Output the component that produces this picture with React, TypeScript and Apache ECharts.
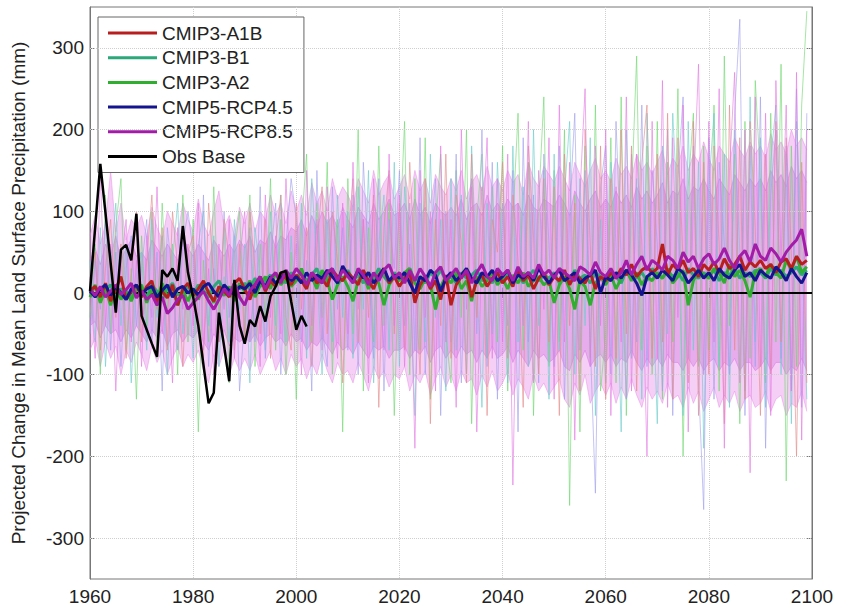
import React, { useEffect, useRef } from "react";
import * as echarts from "echarts";

const START_YEAR = 1960;
const FONT = "'Liberation Sans', Arial, sans-serif";

const xMin = 1960;
const xMax = 2100;
const xInterval = 20;
const yTickValues = [-300, -200, -100, 0, 100, 200, 300];

const legendNames = ["CMIP3-A1B", "CMIP3-B1", "CMIP3-A2", "CMIP5-RCP4.5", "CMIP5-RCP8.5", "Obs Base"];

// Observed baseline, 1960-2002
const obsBase = [
  2, 80, 158, 98, 37, -24, 53, 59, 40, 97,
  -28, -45, -62, -78, 28, 20, 30, 15, 82, 25,
  -5, -40, -88, -135, -122, -24, -65, -108, 16, -40,
  -62, -33, -41, -16, -35, -4, 8, 25, 27, -10,
  -45, -28, -41,
];

// Ensemble means, 1960-2099
const meanA1B = [
  3, 8, -5, 12, -10, 5, 20, -8, 2, 10,
  -5, 8, 15, -12, 2, -6, 10, -15, 5, 12,
  -3, 5, 15, 0, -10, 8, 2, -5, 12, 18,
  5, -8, 10, 20, 2, 15, 8, 25, 18, 10,
  22, 15, 5, 25, 12, 18, 8, 28, 20, 15,
  25, 18, 10, 28, 15, 5, 22, 30, 12, 20,
  8, 18, 25, -12, 10, 20, 5, 15, -8, 22,
  -15, 10, 20, 25, -5, 15, 22, 8, 18, 25,
  12, 20, 8, 28, 15, 22, 5, 18, 25, 10,
  20, 15, 28, 10, 22, 18, 12, 25, 5, 20,
  15, 25, 18, 30, 22, 35, 20, 28, 32, 25,
  30, 60, 22, 35, 28, 40, 25, 30, 20, 35,
  28, 38, 25, 42, 30, 35, 45, 28, 38, 32,
  40, 30, 35, 25, 38, 42, 30, 45, 35, 40,
];
const meanB1 = [
  0, 8, -5, 3, 10, -8, 5, 2, -6, 8,
  3, -5, 10, 2, -8, 5, 12, -3, 0, 8,
  -2, 10, 3, -5, 8, 15, 2, -3, 10, 5,
  12, 5, 18, 8, 15, 22, 10, 20, 12, 25,
  18, 25, 15, 22, 30, 12, 20, 25, 18, 15,
  28, 15, 22, 12, 25, 18, 30, 20, 12, 25,
  18, 22, 30, 15, 20, 12, 25, 18, 28, 15,
  20, 12, 25, 18, 22, 28, 15, 20, 12, 25,
  15, 22, 18, 25, 12, 20, 28, 15, 22, 18,
  25, 12, 20, 15, 28, 18, 22, 12, 25, 20,
  15, 25, 20, 12, 28, 22, 18, 25, 15, 30,
  22, 18, 28, 20, 25, 15, 30, 22, 18, 25,
  20, 28, 15, 25, 22, 30, 18, 25, 20, 28,
  25, 18, 30, 22, 28, 20, 25, 32, 22, 28,
];
const meanA2 = [
  -5, 10, -12, 5, -15, 8, -8, 2, -10, 5,
  10, -12, 5, -8, 12, -5, 8, -15, 3, -10,
  5, -8, 10, 2, -12, 5, -3, 8, -10, 12,
  2, 15, -5, 10, 20, 5, 25, 10, 18, 8,
  15, 30, 12, 20, 5, 28, 15, -8, 10, 20,
  8, -10, 15, 22, 5, 18, 12, -15, 10, 20,
  15, 25, 30, 12, 5, 18, 10, -20, 8, 20,
  12, 25, 5, 15, -10, 20, 8, 15, 25, 10,
  18, 5, 22, 12, 25, 8, 15, 20, 10, 15,
  -12, 10, 20, 5, -20, 15, 8, -15, 12, 20,
  10, 22, 5, 18, 28, 15, 25, 10, 20, 15,
  25, 18, 30, 12, 20, 28, -15, 15, 30, 22,
  18, 30, 25, 12, 35, 20, 28, 15, -5, 25,
  30, 20, 35, 25, 18, 40, 28, 45, 25, 32,
];
const meanRCP45 = [
  2, -5, 5, 10, -3, 8, 0, -8, 5, 10,
  -2, 5, 8, -5, 3, 10, -5, 5, 8, 0,
  5, -3, 8, 12, 2, -5, 10, 3, -2, 8,
  5, 12, 0, 15, 8, 20, 12, 18, 25, 15,
  20, 12, 25, 15, 22, 18, 28, 20, 12, 33,
  22, 15, 28, 18, 25, 12, 20, 30, 15, 22,
  18, 25, 12, 0, 20, 15, 28, 22, 2, 18,
  25, 15, 22, 30, 18, 12, 25, 20, 28, 15,
  20, 28, 12, 22, 18, 25, 15, 30, 20, 12,
  22, 28, 15, 20, 25, 12, 18, 22, 28, 0,
  20, 15, 25, 18, 28, 22, 12, -3, 20, 25,
  18, 28, 22, 15, 30, 25, 12, 20, 28, 18,
  25, 15, 30, 22, 18, 28, 35, 20, 25, 15,
  28, 22, 18, 32, 25, 15, 30, 20, 12, 25,
];
const meanRCP85 = [
  5, -3, 8, -5, 2, 10, -2, 4, 12, -6,
  3, -8, -2, -15, -5, -25, -18, -8, -3, -20,
  -12, -5, 2, -10, -20, -8, 5, -3, 12, -5,
  -15, 3, 10, 20, 5, 18, 25, 12, 28, 18,
  30, 22, 10, 25, 18, 12, 25, 30, 15, 28,
  20, 12, 30, 22, 10, 25, 15, 28, 35, 18,
  25, 12, 28, 15, 30, 20, 8, 25, 32, 15,
  22, 30, 18, 28, 12, 25, 35, 20, 15, 30,
  22, 28, 15, 32, 20, 25, 18, 35, 22, 28,
  18, 30, 25, 20, 15, 32, 28, 22, 38, 25,
  20, 30, 18, 25, 40, 22, 35, 45, 28, 40,
  35, 28, 45, 40, 30, 50, 38, 45, 30, 42,
  48, 35, 42, 55, 40, 30, 45, 52, 38, 60,
  45, 40, 55, 48, 38, 50, 58, 65, 78, 45,
];

// Model spread, outer edge of the cloud, 1960-2099
const cloudUpper = [
  70, 95, 60, 85, 150, 75, 110, 65, 90, 80,
  95, 70, 105, 80, 65, 100, 85, 70, 110, 90,
  75, 115, 85, 70, 100, 125, 80, 95, 70, 105,
  85, 110, 75, 100, 90, 120, 95, 110, 85, 125,
  100, 120, 95, 135, 110, 125, 100, 140, 115, 130,
  120, 105, 140, 125, 110, 150, 120, 135, 145, 115,
  130, 145, 115, 150, 125, 140, 110, 145, 130, 120,
  140, 125, 150, 115, 135, 145, 125, 155, 130, 140,
  125, 150, 135, 145, 120, 160, 140, 130, 155, 145,
  135, 155, 140, 125, 160, 145, 130, 150, 165, 140,
  150, 135, 165, 145, 155, 140, 170, 150, 160, 145,
  160, 175, 145, 165, 155, 180, 150, 170, 160, 185,
  165, 150, 180, 170, 160, 190, 175, 165, 185, 170,
  180, 165, 195, 175, 185, 170, 200, 180, 190, 175,
];
const cloudLower = [
  -70, -55, -90, -60, -80, -65, -100, -70, -85, -60,
  -75, -95, -65, -85, -70, -100, -80, -65, -90, -75,
  -85, -70, -95, -110, -75, -90, -70, -100, -80, -95,
  -80, -95, -75, -100, -85, -70, -95, -80, -100, -75,
  -90, -80, -105, -85, -100, -75, -95, -110, -85, -100,
  -95, -110, -85, -100, -120, -90, -105, -95, -115, -100,
  -105, -90, -120, -100, -110, -95, -125, -105, -90, -115,
  -100, -120, -95, -110, -105, -125, -100, -115, -95, -120,
  -110, -95, -125, -105, -115, -130, -100, -120, -110, -125,
  -115, -105, -130, -140, -110, -125, -100, -135, -120, -110,
  -125, -110, -135, -115, -130, -105, -125, -140, -115, -130,
  -120, -135, -110, -130, -125, -140, -115, -135, -120, -145,
  -130, -115, -140, -125, -135, -120, -145, -130, -125, -140,
  -135, -120, -145, -130, -125, -150, -135, -140, -120, -145,
];

// Model spread, dense inner core, 1960-2099
const coreUpper = [
  40, 55, 35, 60, 45, 70, 40, 55, 65, 45,
  50, 40, 65, 55, 45, 60, 50, 40, 70, 55,
  45, 60, 50, 40, 65, 55, 45, 60, 50, 65,
  55, 70, 50, 65, 60, 75, 55, 70, 65, 80,
  75, 90, 70, 95, 80, 100, 85, 95, 80, 105,
  90, 80, 105, 95, 85, 110, 90, 100, 115, 95,
  100, 110, 90, 115, 95, 105, 85, 110, 100, 95,
  105, 95, 115, 90, 105, 110, 95, 120, 100, 110,
  100, 115, 105, 110, 95, 120, 105, 100, 115, 110,
  105, 120, 110, 95, 125, 110, 100, 115, 125, 105,
  115, 105, 125, 110, 120, 105, 130, 115, 125, 110,
  120, 135, 110, 125, 120, 140, 115, 130, 125, 140,
  125, 115, 140, 130, 120, 145, 135, 125, 140, 130,
  140, 125, 150, 135, 145, 130, 155, 140, 150, 135,
];
const coreLower = [
  -40, -35, -55, -40, -50, -45, -60, -45, -55, -40,
  -50, -60, -45, -55, -45, -65, -50, -45, -60, -50,
  -55, -45, -60, -70, -50, -60, -45, -65, -55, -60,
  -55, -60, -50, -65, -55, -50, -60, -55, -65, -50,
  -60, -55, -70, -60, -65, -55, -65, -75, -60, -70,
  -65, -75, -60, -70, -80, -65, -70, -65, -80, -70,
  -70, -65, -80, -70, -75, -65, -85, -70, -65, -80,
  -70, -80, -65, -75, -70, -85, -70, -80, -65, -80,
  -75, -65, -85, -70, -80, -90, -70, -80, -75, -85,
  -80, -70, -90, -95, -75, -85, -70, -90, -80, -75,
  -85, -75, -90, -80, -85, -70, -85, -95, -80, -90,
  -80, -90, -75, -85, -85, -95, -80, -90, -80, -95,
  -85, -80, -95, -85, -90, -80, -95, -85, -85, -95,
  -90, -80, -95, -85, -85, -100, -90, -95, -80, -95,
];

// Individual model runs (thin lines), 1960-2099
const runPink = [
  20, -80, 150, -40, 60, -120, 30, 90, -60, 40,
  -90, 70, -30, 130, -50, 20, -110, 80, -20, 60,
  -40, 110, -70, 30, -100, 60, -20, 90, -80, 40,
  100, -60, 20, -90, 120, -30, 70, -50, 140, -10,
  60, -100, 150, -40, 90, -70, 130, 10, -80, 110,
  -50, 160, -20, 90, -110, 140, 30, -70, 170, -40,
  120, -90, 60, -190, 150, -30, 100, -120, 180, -60,
  90, -140, 200, -20, 130, -170, 60, 190, -80, 140,
  -60, 170, -235, 110, -40, 210, -110, 150, -20, 190,
  -130, 230, -60, 160, -180, 120, 250, -90, 180, -40,
  200, -150, 130, -60, 240, -120, 170, 60, -200, 210,
  -80, 260, -140, 190, -30, 230, -170, 120, 280, -100,
  210, -60, 250, -190, 150, 270, -110, 200, -220, 240,
  -90, 220, -150, 260, 40, 230, -120, 270, -180, 200,
];
const runGreen = [
  -30, 60, -100, 120, -50, 80, 140, -70, 30, -130,
  70, -40, 100, -80, 110, -20, 60, -100, 120, -60,
  90, -170, 40, -60, 130, -30, 80, -110, 50, 100,
  -50, 120, -90, 60, -30, 140, -70, 90, -100, 50,
  -130, 80, 170, -60, 110, -30, 160, -100, 90, -170,
  140, -50, 200, -120, 80, -60, 180, -40, 110, -150,
  60, 210, -100, 140, -70, 190, -130, 80, 170, -50,
  -110, 150, -30, 200, -160, 90, 170, -80, 130, -60,
  180, -120, 90, 220, -70, 160, -150, 110, 240, -90,
  150, -60, 200, -260, 120, -170, 180, -80, 230, -120,
  -50, 190, -110, 240, -150, 120, 290, -70, 180, -100,
  210, -130, 160, -60, 250, -200, 130, 220, -90, 180,
  -70, 230, -120, 290, -40, 170, -160, 210, -80, 260,
  140, -110, 220, -60, 280, -230, 180, -90, 230, 345,
];
const runCyan = [
  40, -60, 80, -90, 30, 110, -40, 60, -110, 20,
  50, -70, 90, -30, 70, -100, 40, 110, -50, 30,
  -80, 60, 100, -40, 70, -90, 20, -60, 90, -20,
  60, -110, 80, 20, -70, 100, -40, 120, -60, 70,
  -40, 110, -80, 140, 30, -100, 90, -60, 120, -30,
  100, -80, 130, -20, 150, -110, 60, 120, -70, 160,
  -90, 130, 40, -150, 110, -60, 170, -30, 90, -120,
  140, -70, 120, -100, 180, 20, -140, 110, -50, 160,
  30, -110, 180, -60, 130, -90, 200, -40, 150, -130,
  170, -70, 120, 210, -100, 140, -40, 190, -150, 90,
  -110, 160, 60, -170, 200, -80, 140, -130, 220, 30,
  -160, 180, -50, 220, 90, -150, 210, -70, 160, -190,
  130, 220, -90, 170, -140, 200, 50, -120, 240, -60,
  190, -140, 160, 230, -100, 170, -160, 210, 60, -130,
];
const runLavender = [
  -50, 40, -20, 90, -70, 50, -90, 30, 70, -40,
  30, 90, -60, 50, -120, 80, 20, -70, 60, 100,
  50, -50, 120, -90, 30, -60, 100, -30, 70, -120,
  -30, 80, -60, 130, -80, 40, 110, -100, 60, 140,
  90, -60, 40, -120, 150, -40, -90, 130, -20, 80,
  -70, 120, -100, 160, 40, -80, 140, -120, 90, 30,
  150, -40, 110, -70, 190, -100, 60, 140, -150, 100,
  -60, 170, -110, 80, 140, -50, 200, -90, 160, -130,
  110, -40, 150, -170, 190, -60, 120, -110, 170, 60,
  -90, 180, -130, 100, 220, -70, 150, -60, -245, 130,
  180, -100, 210, 40, -130, 170, -60, 230, -90, 150,
  60, -120, 200, -150, 140, 240, -80, 180, -110, -265,
  190, -130, 160, 60, -100, 220, 335, -150, 180, -90,
  240, -190, 120, 200, -80, 180, -120, 250, -140, 220,
];
const runRed = [
  10, 50, -70, 30, 90, -30, 60, -80, 20, 100,
  -60, 40, 120, -20, 80, -70, 100, 30, -90, 50,
  70, -30, -80, 110, 20, -60, 90, 40, -70, 60,
  -60, 100, 30, -50, 90, -80, 60, 120, -30, -70,
  110, -20, 80, -90, 60, 130, -50, 100, 40, -110,
  60, 140, -60, 90, -30, 120, -140, 80, 150, -50,
  110, -70, 160, 30, -100, 140, -160, 90, -40, 170,
  -80, 120, 60, -110, 170, -30, 130, -150, 90, 50,
  160, -80, 120, 40, -140, 180, 70, -100, 140, -60,
  130, -150, 170, -40, 110, -120, 200, 60, -90, 180,
  -130, 140, -80, 200, -50, 180, -120, 160, 230, -80,
  170, -60, 220, -130, 190, 40, -110, 210, -150, 160,
  -100, 180, 60, -160, 230, -70, 190, -130, 210, 80,
  -150, 170, -100, 210, -60, 190, 50, -200, 160, -110,
];

const toXY = (arr: number[]) => arr.map((v, i) => [START_YEAR + i, v]);

export default function App() {
  const ref = useRef<HTMLDivElement>(null);

  useEffect(() => {
    if (!ref.current) return;
    const chart = echarts.init(ref.current, null, { renderer: "svg" });

    const thin = (data: number[], color: string) => ({
      type: "line",
      data: toXY(data),
      showSymbol: false,
      symbol: "none",
      silent: true,
      z: 2,
      lineStyle: { color, width: 0.8, opacity: 0.8 },
    });
    const band = (data: number[], color: string) => ({
      type: "line",
      data: toXY(data),
      symbol: "none",
      showSymbol: false,
      silent: true,
      z: 1,
      lineStyle: { color, width: 0.8 },
      areaStyle: { color, origin: 0 },
    });
    const mean = (name: string, data: number[], color: string, z: number) => ({
      name,
      type: "line",
      data: toXY(data),
      symbol: "none",
      showSymbol: false,
      z,
      lineStyle: { color, width: 3 },
      itemStyle: { color },
    });

    const outerColor = "rgba(230, 140, 230, 0.6)";
    const coreColor = "rgba(205, 105, 222, 0.5)";

    const option: any = {
      animation: false,
      backgroundColor: "#ffffff",
      textStyle: { fontFamily: FONT },
      grid: {
        left: 90,
        right: 33,
        top: 7,
        bottom: 27,
        show: true,
        borderColor: "#777",
        borderWidth: 1,
        backgroundColor: "transparent",
      },
      legend: {
        data: legendNames,
        orient: "vertical",
        left: 98,
        top: 17,
        padding: [6, 11, 6, 10],
        icon: "rect",
        itemWidth: 49,
        itemHeight: 3,
        itemGap: 4.7,
        backgroundColor: "#ffffff",
        borderColor: "#666",
        borderWidth: 1,
        textStyle: { fontSize: 19, lineHeight: 20, color: "#222", fontFamily: FONT },
      },
      xAxis: [
        {
          type: "value",
          min: xMin,
          max: xMax,
          interval: xInterval,
          position: "bottom",
          axisLine: { show: true, lineStyle: { color: "#777" } },
          axisTick: { show: true, inside: true, length: 5, lineStyle: { color: "#777" } },
          axisLabel: { fontSize: 19, color: "#222", fontFamily: FONT, margin: 8, formatter: (v: number) => String(v) },
          splitLine: { show: true, lineStyle: { color: "#cfcfcf", type: "dotted", width: 1 } },
        },
        {
          type: "value",
          min: xMin,
          max: xMax,
          interval: xInterval,
          position: "top",
          axisLine: { show: true, lineStyle: { color: "#777" } },
          axisTick: { show: true, inside: true, length: 5, lineStyle: { color: "#777" } },
          axisLabel: { show: false },
          splitLine: { show: false },
        },
      ],
      yAxis: [
        {
          type: "value",
          min: -350,
          max: 350,
          position: "left",
          name: "Projected Change in Mean Land Surface Precipitation (mm)",
          nameLocation: "middle",
          nameGap: 62,
          nameTextStyle: { fontSize: 19, color: "#222", fontFamily: FONT },
          axisLine: { show: true, lineStyle: { color: "#777" } },
          axisTick: { show: true, inside: true, length: 5, customValues: yTickValues, lineStyle: { color: "#777" } },
          axisLabel: { fontSize: 19, color: "#222", fontFamily: FONT, margin: 6, customValues: yTickValues, formatter: (v: number) => String(v) },
          splitLine: { show: false },
        },
        {
          type: "value",
          min: -350,
          max: 350,
          position: "right",
          axisLine: { show: true, lineStyle: { color: "#777" } },
          axisTick: { show: true, inside: true, length: 5, customValues: yTickValues, lineStyle: { color: "#777" } },
          axisLabel: { show: false, customValues: yTickValues },
          splitLine: { show: false },
        },
      ],
      series: [
        {
          type: "line",
          data: [],
          silent: true,
          markLine: {
            silent: true,
            symbol: "none",
            label: { show: false },
            lineStyle: { color: "#cfcfcf", type: "dotted", width: 1 },
            data: yTickValues.filter((v) => v !== 0).map((v) => ({ yAxis: v })),
          },
          z: 0,
        },
        band(cloudUpper, outerColor),
        band(cloudLower, outerColor),
        band(coreUpper, coreColor),
        band(coreLower, coreColor),
        thin(runGreen, "#6fd86f"),
        thin(runCyan, "#6ccccc"),
        thin(runLavender, "#a0a0ee"),
        thin(runRed, "#e58a8a"),
        thin(runPink, "#e27ae2"),
        mean("CMIP3-B1", meanB1, "#2ca87a", 5),
        mean("CMIP3-A2", meanA2, "#2fae2f", 6),
        mean("CMIP3-A1B", meanA1B, "#b81e1e", 7),
        mean("CMIP5-RCP4.5", meanRCP45, "#14148f", 8),
        mean("CMIP5-RCP8.5", meanRCP85, "#a21ca8", 9),
        {
          name: "Obs Base",
          type: "line",
          data: toXY(obsBase),
          symbol: "none",
          showSymbol: false,
          z: 11,
          lineStyle: { color: "#000", width: 2.5 },
          itemStyle: { color: "#000" },
          markLine: {
            silent: true,
            symbol: "none",
            label: { show: false },
            lineStyle: { color: "#000", type: "solid", width: 2 },
            data: [{ yAxis: 0 }],
          },
        },
      ],
    };

    chart.setOption(option);
    return () => chart.dispose();
  }, []);

  return (
    <div
      ref={ref}
      style={{ position: "absolute", left: 0, top: 0, width: 845, height: 606 }}
    />
  );
}
